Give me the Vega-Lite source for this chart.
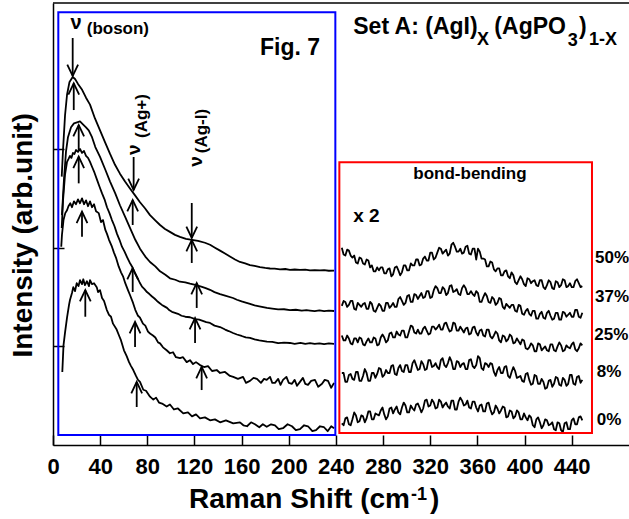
{
  "$schema": "https://vega.github.io/schema/vega-lite/v6.json",
  "width": 576,
  "height": 442,
  "autosize": {"type": "none"},
  "padding": {"left": 53, "top": 3, "right": 0, "bottom": 74},
  "background": "white",
  "config": {"view": {"stroke": null}, "font": "Liberation Sans"},
  "datasets": {
    "curves": [
      {"k":"50L","x":7.4,"y":272},{"k":"50L","x":8.5,"y":299},{"k":"50L","x":10.2,"y":334},{"k":"50L","x":11.9,"y":355},{"k":"50L","x":14,"y":368},{"k":"50L","x":16.7,"y":373},{"k":"50L","x":18.7,"y":371},{"k":"50L","x":21.2,"y":366},{"k":"50L","x":24.7,"y":360},{"k":"50L","x":28,"y":352},{"k":"50L","x":31.4,"y":345},{"k":"50L","x":35.6,"y":331},{"k":"50L","x":39.9,"y":319},{"k":"50L","x":44.1,"y":307},{"k":"50L","x":48.4,"y":295},{"k":"50L","x":52.6,"y":284},{"k":"50L","x":56.8,"y":275},{"k":"50L","x":61.1,"y":267},{"k":"50L","x":65.3,"y":260},{"k":"50L","x":69.6,"y":253},{"k":"50L","x":73.8,"y":246},{"k":"50L","x":78,"y":240},{"k":"50L","x":82.3,"y":233},{"k":"50L","x":86.5,"y":228},{"k":"50L","x":90.8,"y":223},{"k":"50L","x":95,"y":219},{"k":"50L","x":99.2,"y":216},{"k":"50L","x":103.5,"y":213},{"k":"50L","x":107.7,"y":211},{"k":"50L","x":112.8,"y":209},{"k":"50L","x":117.9,"y":208},{"k":"50L","x":123,"y":207},{"k":"50L","x":128.9,"y":205},{"k":"50L","x":133.2,"y":203},{"k":"50L","x":137.4,"y":200},{"k":"50L","x":141.7,"y":197},{"k":"50L","x":145.9,"y":194},{"k":"50L","x":150.1,"y":191},{"k":"50L","x":154.4,"y":188},{"k":"50L","x":158.6,"y":185.5},{"k":"50L","x":163,"y":184},{"k":"50L","x":167.1,"y":182.4},{"k":"50L","x":171,"y":181.5},{"k":"50L","x":175.6,"y":180.4},{"k":"50L","x":180,"y":179.5},{"k":"50L","x":184.1,"y":178.9},{"k":"50L","x":188,"y":178.8},{"k":"50L","x":192.6,"y":178.1},{"k":"50L","x":197,"y":178.4},{"k":"50L","x":201,"y":177.6},{"k":"50L","x":205,"y":177.9},{"k":"50L","x":209.5,"y":177.4},{"k":"50L","x":214,"y":177.7},{"k":"50L","x":218,"y":176.9},{"k":"50L","x":222,"y":177.3},{"k":"50L","x":226.5,"y":176.9},{"k":"50L","x":230,"y":177.2},{"k":"50L","x":234,"y":176.6},{"k":"50L","x":238.4,"y":176.7},

      {"k":"37L","x":7.6,"y":233},{"k":"37L","x":9.3,"y":269},{"k":"37L","x":11,"y":297},{"k":"37L","x":12.7,"y":312},{"k":"37L","x":15.3,"y":322},{"k":"37L","x":17.8,"y":326},{"k":"37L","x":20.4,"y":327},{"k":"37L","x":22.9,"y":328},{"k":"37L","x":25.4,"y":325},{"k":"37L","x":28,"y":322},{"k":"37L","x":30.3,"y":319},{"k":"37L","x":33.1,"y":312},{"k":"37L","x":35.9,"y":302},{"k":"37L","x":39.9,"y":292},{"k":"37L","x":44.4,"y":279},{"k":"37L","x":48.4,"y":267},{"k":"37L","x":52.8,"y":255},{"k":"37L","x":56.8,"y":243},{"k":"37L","x":61.3,"y":231},{"k":"37L","x":65.3,"y":220},{"k":"37L","x":69.8,"y":208},{"k":"37L","x":73.8,"y":199},{"k":"37L","x":78.3,"y":191},{"k":"37L","x":82.3,"y":185.5},{"k":"37L","x":86.8,"y":181},{"k":"37L","x":90.8,"y":176},{"k":"37L","x":95.3,"y":172.5},{"k":"37L","x":99.2,"y":169},{"k":"37L","x":103.7,"y":167.5},{"k":"37L","x":107.7,"y":165.5},{"k":"37L","x":112.2,"y":164.8},{"k":"37L","x":116.2,"y":163.5},{"k":"37L","x":120.7,"y":162.4},{"k":"37L","x":126.4,"y":160.2},{"k":"37L","x":129.5,"y":159},{"k":"37L","x":133.2,"y":157.3},{"k":"37L","x":137,"y":155},{"k":"37L","x":141.7,"y":153},{"k":"37L","x":146,"y":151.5},{"k":"37L","x":152.7,"y":149},{"k":"37L","x":156,"y":147.2},{"k":"37L","x":160,"y":145.5},{"k":"37L","x":163.5,"y":144.3},{"k":"37L","x":167.1,"y":143},{"k":"37L","x":171,"y":141.5},{"k":"37L","x":175,"y":140.6},{"k":"37L","x":181.5,"y":138.9},{"k":"37L","x":186,"y":138.2},{"k":"37L","x":191,"y":137.4},{"k":"37L","x":196,"y":137.6},{"k":"37L","x":201,"y":136.8},{"k":"37L","x":206,"y":137.1},{"k":"37L","x":211,"y":136.3},{"k":"37L","x":215,"y":136.7},{"k":"37L","x":218,"y":136.3},{"k":"37L","x":222,"y":135.6},{"k":"37L","x":226,"y":136.4},{"k":"37L","x":230,"y":135.7},{"k":"37L","x":234,"y":136.2},{"k":"37L","x":238.4,"y":135.8},

      {"k":"25L","x":7.4,"y":220},{"k":"25L","x":8.5,"y":248},{"k":"25L","x":10.2,"y":274},{"k":"25L","x":11.9,"y":287},{"k":"25L","x":13.2,"y":290},{"k":"25L","x":14.4,"y":293},{"k":"25L","x":15.6,"y":291},{"k":"25L","x":16.9,"y":296},{"k":"25L","x":18.2,"y":295},{"k":"25L","x":19.5,"y":299},{"k":"25L","x":21.2,"y":297},{"k":"25L","x":22.9,"y":300},{"k":"25L","x":24.6,"y":296},{"k":"25L","x":26.3,"y":298},{"k":"25L","x":28,"y":293},{"k":"25L","x":29.7,"y":291},{"k":"25L","x":31.4,"y":287},{"k":"25L","x":33.1,"y":282},{"k":"25L","x":35.2,"y":276},{"k":"25L","x":37.3,"y":269},{"k":"25L","x":39.4,"y":262},{"k":"25L","x":41.6,"y":255},{"k":"25L","x":43.7,"y":249},{"k":"25L","x":45.8,"y":241},{"k":"25L","x":47.9,"y":235},{"k":"25L","x":50,"y":228},{"k":"25L","x":52.1,"y":222},{"k":"25L","x":54.3,"y":214},{"k":"25L","x":56.4,"y":208},{"k":"25L","x":58.5,"y":201},{"k":"25L","x":60.7,"y":196},{"k":"25L","x":62.8,"y":190.5},{"k":"25L","x":65,"y":185},{"k":"25L","x":67,"y":181},{"k":"25L","x":69.2,"y":175},{"k":"25L","x":71.3,"y":170},{"k":"25L","x":73.4,"y":165},{"k":"25L","x":75.5,"y":160.5},{"k":"25L","x":77.6,"y":158},{"k":"25L","x":79.7,"y":155},{"k":"25L","x":81.8,"y":153},{"k":"25L","x":84,"y":150.5},{"k":"25L","x":86.1,"y":148.5},{"k":"25L","x":88.2,"y":146},{"k":"25L","x":90.3,"y":144},{"k":"25L","x":92.4,"y":142},{"k":"25L","x":94.5,"y":140.5},{"k":"25L","x":96.7,"y":139},{"k":"25L","x":98.8,"y":136.5},{"k":"25L","x":100.9,"y":135},{"k":"25L","x":103.5,"y":134},{"k":"25L","x":106,"y":133},{"k":"25L","x":109,"y":131},{"k":"25L","x":112.2,"y":130},{"k":"25L","x":116.2,"y":129.5},{"k":"25L","x":120.7,"y":127.5},{"k":"25L","x":124,"y":127},{"k":"25L","x":126.4,"y":126},{"k":"25L","x":130,"y":124.5},{"k":"25L","x":133.2,"y":123.7},{"k":"25L","x":137,"y":121},{"k":"25L","x":141.7,"y":119.6},{"k":"25L","x":146,"y":117},{"k":"25L","x":149,"y":115.5},{"k":"25L","x":152.7,"y":113.5},{"k":"25L","x":156,"y":112},{"k":"25L","x":160,"y":110.5},{"k":"25L","x":163.5,"y":109},{"k":"25L","x":167.1,"y":108.5},{"k":"25L","x":171,"y":107},{"k":"25L","x":175,"y":106},{"k":"25L","x":181.5,"y":104.7},{"k":"25L","x":186,"y":104.5},{"k":"25L","x":191,"y":103.2},{"k":"25L","x":196,"y":103.8},{"k":"25L","x":201,"y":103.4},{"k":"25L","x":205,"y":102.6},{"k":"25L","x":210,"y":103.5},{"k":"25L","x":214,"y":102.5},{"k":"25L","x":218,"y":103.2},{"k":"25L","x":222,"y":102.4},{"k":"25L","x":226,"y":103.1},{"k":"25L","x":230,"y":102.2},{"k":"25L","x":234,"y":102.9},{"k":"25L","x":238.4,"y":102.4},

      {"k":"8L","x":7,"y":201},{"k":"8L","x":7.6,"y":213},{"k":"8L","x":8.9,"y":228},{"k":"8L","x":10.4,"y":235},{"k":"8L","x":11.9,"y":238},{"k":"8L","x":13.1,"y":242},{"k":"8L","x":14.7,"y":245},{"k":"8L","x":16.1,"y":241},{"k":"8L","x":17.8,"y":247},{"k":"8L","x":19.5,"y":244},{"k":"8L","x":21.2,"y":249},{"k":"8L","x":22.9,"y":245},{"k":"8L","x":24.6,"y":250},{"k":"8L","x":26.3,"y":244},{"k":"8L","x":28,"y":248},{"k":"8L","x":29.7,"y":242},{"k":"8L","x":31.4,"y":247},{"k":"8L","x":33.1,"y":241},{"k":"8L","x":34.8,"y":244},{"k":"8L","x":36.5,"y":237},{"k":"8L","x":38.8,"y":235},{"k":"8L","x":40.7,"y":226},{"k":"8L","x":42.4,"y":228},{"k":"8L","x":44.4,"y":218},{"k":"8L","x":45.8,"y":214},{"k":"8L","x":47.5,"y":208},{"k":"8L","x":50,"y":201},{"k":"8L","x":51.7,"y":195},{"k":"8L","x":53.4,"y":190},{"k":"8L","x":55.7,"y":181},{"k":"8L","x":57.7,"y":175},{"k":"8L","x":59.4,"y":171},{"k":"8L","x":61.3,"y":164},{"k":"8L","x":63.6,"y":157},{"k":"8L","x":65.3,"y":152},{"k":"8L","x":67.9,"y":144},{"k":"8L","x":69.8,"y":137},{"k":"8L","x":72.1,"y":131},{"k":"8L","x":73.8,"y":129},{"k":"8L","x":76.3,"y":123},{"k":"8L","x":78.3,"y":121},{"k":"8L","x":80.6,"y":115},{"k":"8L","x":82.3,"y":113},{"k":"8L","x":84.8,"y":111},{"k":"8L","x":86.8,"y":109},{"k":"8L","x":89.1,"y":104},{"k":"8L","x":90.8,"y":103},{"k":"8L","x":93.3,"y":99},{"k":"8L","x":96.4,"y":96},{"k":"8L","x":99.2,"y":93},{"k":"8L","x":101.8,"y":94},{"k":"8L","x":104.3,"y":89},{"k":"8L","x":107.7,"y":88},{"k":"8L","x":110.3,"y":89},{"k":"8L","x":113.4,"y":84},{"k":"8L","x":116.2,"y":86},{"k":"8L","x":118.8,"y":82},{"k":"8L","x":121.3,"y":84},{"k":"8L","x":124.7,"y":81},{"k":"8L","x":128.1,"y":79},{"k":"8L","x":131.5,"y":80},{"k":"8L","x":134.9,"y":75},{"k":"8L","x":138.9,"y":76},{"k":"8L","x":141.7,"y":73},{"k":"8L","x":145.9,"y":74},{"k":"8L","x":150.1,"y":70},{"k":"8L","x":152.9,"y":69},{"k":"8L","x":156.9,"y":67},{"k":"8L","x":161.2,"y":69},{"k":"8L","x":163.7,"y":63},{"k":"8L","x":167.1,"y":65},{"k":"8L","x":170.1,"y":68},{"k":"8L","x":173,"y":67},{"k":"8L","x":176.4,"y":63},{"k":"8L","x":179,"y":67},{"k":"8L","x":181.3,"y":66},{"k":"8L","x":184.1,"y":69},{"k":"8L","x":186,"y":63},{"k":"8L","x":188.3,"y":63},{"k":"8L","x":191,"y":67},{"k":"8L","x":193,"y":61},{"k":"8L","x":195.1,"y":66},{"k":"8L","x":198,"y":69},{"k":"8L","x":200,"y":63},{"k":"8L","x":202.7,"y":62},{"k":"8L","x":205,"y":66},{"k":"8L","x":207,"y":60},{"k":"8L","x":209.5,"y":64},{"k":"8L","x":212,"y":68},{"k":"8L","x":214,"y":62},{"k":"8L","x":216.3,"y":61},{"k":"8L","x":219,"y":65},{"k":"8L","x":222.2,"y":66},{"k":"8L","x":225,"y":59},{"k":"8L","x":228.2,"y":62},{"k":"8L","x":230.5,"y":66},{"k":"8L","x":233.3,"y":65},{"k":"8L","x":236,"y":58},{"k":"8L","x":238.4,"y":63},

      {"k":"0L","x":7.9,"y":74},{"k":"0L","x":8.9,"y":101},{"k":"0L","x":10.2,"y":114},{"k":"0L","x":11.9,"y":129},{"k":"0L","x":13.6,"y":142},{"k":"0L","x":14.4,"y":147},{"k":"0L","x":16.1,"y":154},{"k":"0L","x":17.2,"y":160},{"k":"0L","x":18.7,"y":156},{"k":"0L","x":20.1,"y":164},{"k":"0L","x":21.6,"y":161},{"k":"0L","x":22.9,"y":167},{"k":"0L","x":24.6,"y":163},{"k":"0L","x":25.7,"y":168},{"k":"0L","x":27.1,"y":162},{"k":"0L","x":28.8,"y":166},{"k":"0L","x":30.5,"y":161},{"k":"0L","x":31.4,"y":167},{"k":"0L","x":33.1,"y":163},{"k":"0L","x":34.8,"y":164},{"k":"0L","x":37.1,"y":160},{"k":"0L","x":38.2,"y":155},{"k":"0L","x":39.9,"y":157},{"k":"0L","x":41.6,"y":149},{"k":"0L","x":43.3,"y":146},{"k":"0L","x":45.6,"y":137},{"k":"0L","x":47.5,"y":132},{"k":"0L","x":49.2,"y":130},{"k":"0L","x":50.9,"y":123},{"k":"0L","x":54,"y":117},{"k":"0L","x":56,"y":111},{"k":"0L","x":57.7,"y":106},{"k":"0L","x":60.2,"y":96},{"k":"0L","x":62.5,"y":90},{"k":"0L","x":64.5,"y":84},{"k":"0L","x":66.2,"y":80},{"k":"0L","x":68.1,"y":76},{"k":"0L","x":70.4,"y":70},{"k":"0L","x":72.1,"y":66},{"k":"0L","x":73.8,"y":64},{"k":"0L","x":76.6,"y":56},{"k":"0L","x":78.9,"y":55},{"k":"0L","x":80.6,"y":52},{"k":"0L","x":82.3,"y":49},{"k":"0L","x":85.1,"y":46},{"k":"0L","x":87.4,"y":48},{"k":"0L","x":89.9,"y":43},{"k":"0L","x":92.5,"y":42},{"k":"0L","x":96.4,"y":39},{"k":"0L","x":99.2,"y":41},{"k":"0L","x":102.6,"y":36},{"k":"0L","x":106,"y":37},{"k":"0L","x":110.5,"y":32},{"k":"0L","x":114.5,"y":33},{"k":"0L","x":117.9,"y":29},{"k":"0L","x":121.3,"y":31},{"k":"0L","x":124.7,"y":27},{"k":"0L","x":128.9,"y":28},{"k":"0L","x":133.2,"y":25},{"k":"0L","x":137.4,"y":26},{"k":"0L","x":141.7,"y":23},{"k":"0L","x":146.7,"y":25},{"k":"0L","x":152.9,"y":22},{"k":"0L","x":158.6,"y":23},{"k":"0L","x":161.5,"y":20},{"k":"0L","x":164.6,"y":19},{"k":"0L","x":168,"y":23},{"k":"0L","x":171.3,"y":21},{"k":"0L","x":175,"y":18},{"k":"0L","x":178,"y":21},{"k":"0L","x":181.3,"y":18.5},{"k":"0L","x":185,"y":21},{"k":"0L","x":188.3,"y":20},{"k":"0L","x":191.5,"y":16},{"k":"0L","x":195.1,"y":17},{"k":"0L","x":199,"y":21},{"k":"0L","x":202.7,"y":19},{"k":"0L","x":206,"y":15},{"k":"0L","x":209.5,"y":16},{"k":"0L","x":213,"y":20},{"k":"0L","x":216.3,"y":19},{"k":"0L","x":220,"y":14},{"k":"0L","x":223.1,"y":15},{"k":"0L","x":226.5,"y":19},{"k":"0L","x":229.9,"y":18},{"k":"0L","x":233,"y":14},{"k":"0L","x":236,"y":19},{"k":"0L","x":238.4,"y":17},

      {"k":"50R","x":245,"y":200},{"k":"50R","x":248,"y":192},{"k":"50R","x":251,"y":197},{"k":"50R","x":254,"y":190},{"k":"50R","x":257,"y":185},{"k":"50R","x":260,"y":190},{"k":"50R","x":263,"y":184},{"k":"50R","x":266,"y":188},{"k":"50R","x":269,"y":180},{"k":"50R","x":272,"y":176},{"k":"50R","x":275,"y":180},{"k":"50R","x":278,"y":180},{"k":"50R","x":281,"y":174},{"k":"50R","x":284,"y":178},{"k":"50R","x":287,"y":171},{"k":"50R","x":290,"y":180},{"k":"50R","x":293,"y":177},{"k":"50R","x":296,"y":175},{"k":"50R","x":299,"y":182},{"k":"50R","x":302,"y":177},{"k":"50R","x":305,"y":182},{"k":"50R","x":308,"y":188},{"k":"50R","x":311,"y":182},{"k":"50R","x":314,"y":189},{"k":"50R","x":317,"y":187},{"k":"50R","x":320,"y":195},{"k":"50R","x":323,"y":188},{"k":"50R","x":326,"y":195},{"k":"50R","x":329,"y":199},{"k":"50R","x":332,"y":196},{"k":"50R","x":335,"y":192},{"k":"50R","x":338,"y":203},{"k":"50R","x":341,"y":201},{"k":"50R","x":344,"y":196},{"k":"50R","x":347,"y":194},{"k":"50R","x":350,"y":201},{"k":"50R","x":353,"y":194},{"k":"50R","x":356,"y":199},{"k":"50R","x":359,"y":188},{"k":"50R","x":362,"y":196},{"k":"50R","x":365,"y":189},{"k":"50R","x":368,"y":181},{"k":"50R","x":371,"y":186},{"k":"50R","x":374,"y":178},{"k":"50R","x":377,"y":179},{"k":"50R","x":380,"y":172},{"k":"50R","x":383,"y":176},{"k":"50R","x":386,"y":171},{"k":"50R","x":389,"y":175},{"k":"50R","x":392,"y":165},{"k":"50R","x":395,"y":167},{"k":"50R","x":398,"y":168},{"k":"50R","x":401,"y":161},{"k":"50R","x":404,"y":168},{"k":"50R","x":407,"y":166},{"k":"50R","x":410,"y":162},{"k":"50R","x":413,"y":167},{"k":"50R","x":416,"y":160},{"k":"50R","x":419,"y":162},{"k":"50R","x":422,"y":165},{"k":"50R","x":425,"y":158},{"k":"50R","x":428,"y":165},{"k":"50R","x":431,"y":162},{"k":"50R","x":434,"y":167},{"k":"50R","x":437,"y":161},{"k":"50R","x":440,"y":160},{"k":"50R","x":443,"y":166},{"k":"50R","x":446,"y":164},{"k":"50R","x":449,"y":161},
      {"k":"50R","x":246.5,"y":193},{"k":"50R","x":249.5,"y":198},{"k":"50R","x":252.5,"y":192},{"k":"50R","x":255.5,"y":192},{"k":"50R","x":258.5,"y":184},{"k":"50R","x":261.5,"y":189},{"k":"50R","x":264.5,"y":183},{"k":"50R","x":267.5,"y":187},{"k":"50R","x":270.5,"y":182},{"k":"50R","x":273.5,"y":176},{"k":"50R","x":276.5,"y":177},{"k":"50R","x":279.5,"y":180},{"k":"50R","x":282.5,"y":174},{"k":"50R","x":285.5,"y":179},{"k":"50R","x":288.5,"y":173},{"k":"50R","x":291.5,"y":181},{"k":"50R","x":294.5,"y":172},{"k":"50R","x":297.5,"y":182},{"k":"50R","x":300.5,"y":177},{"k":"50R","x":303.5,"y":184},{"k":"50R","x":306.5,"y":182},{"k":"50R","x":309.5,"y":188},{"k":"50R","x":312.5,"y":183},{"k":"50R","x":315.5,"y":191},{"k":"50R","x":318.5,"y":187},{"k":"50R","x":321.5,"y":195},{"k":"50R","x":324.5,"y":190},{"k":"50R","x":327.5,"y":200},{"k":"50R","x":330.5,"y":194},{"k":"50R","x":333.5,"y":198},{"k":"50R","x":336.5,"y":194},{"k":"50R","x":339.5,"y":205},{"k":"50R","x":342.5,"y":196},{"k":"50R","x":345.5,"y":199},{"k":"50R","x":348.5,"y":195},{"k":"50R","x":351.5,"y":202},{"k":"50R","x":354.5,"y":193},{"k":"50R","x":357.5,"y":199},{"k":"50R","x":360.5,"y":199},{"k":"50R","x":363.5,"y":189},{"k":"50R","x":366.5,"y":188},{"k":"50R","x":369.5,"y":181},{"k":"50R","x":372.5,"y":185},{"k":"50R","x":375.5,"y":176},{"k":"50R","x":378.5,"y":179},{"k":"50R","x":381.5,"y":172},{"k":"50R","x":384.5,"y":177},{"k":"50R","x":387.5,"y":169},{"k":"50R","x":390.5,"y":172},{"k":"50R","x":393.5,"y":163},{"k":"50R","x":396.5,"y":171},{"k":"50R","x":399.5,"y":163},{"k":"50R","x":402.5,"y":169},{"k":"50R","x":405.5,"y":164},{"k":"50R","x":408.5,"y":167},{"k":"50R","x":411.5,"y":161},{"k":"50R","x":414.5,"y":167},{"k":"50R","x":417.5,"y":158},{"k":"50R","x":420.5,"y":167},{"k":"50R","x":423.5,"y":159},{"k":"50R","x":426.5,"y":166},{"k":"50R","x":429.5,"y":160},{"k":"50R","x":432.5,"y":168},{"k":"50R","x":435.5,"y":160},{"k":"50R","x":438.5,"y":164},{"k":"50R","x":441.5,"y":160},{"k":"50R","x":444.5,"y":168},{"k":"50R","x":447.5,"y":160},

      {"k":"37R","x":245,"y":141},{"k":"37R","x":248,"y":145},{"k":"37R","x":251,"y":142},{"k":"37R","x":254,"y":146},{"k":"37R","x":257,"y":137},{"k":"37R","x":260,"y":142},{"k":"37R","x":263,"y":143},{"k":"37R","x":266,"y":138},{"k":"37R","x":269,"y":145},{"k":"37R","x":272,"y":136},{"k":"37R","x":275,"y":139},{"k":"37R","x":278,"y":141},{"k":"37R","x":281,"y":136},{"k":"37R","x":284,"y":144},{"k":"37R","x":287,"y":141},{"k":"37R","x":290,"y":140},{"k":"37R","x":293,"y":148},{"k":"37R","x":296,"y":146},{"k":"37R","x":299,"y":144},{"k":"37R","x":302,"y":152},{"k":"37R","x":305,"y":145},{"k":"37R","x":308,"y":152},{"k":"37R","x":311,"y":151},{"k":"37R","x":314,"y":149},{"k":"37R","x":317,"y":156},{"k":"37R","x":320,"y":149},{"k":"37R","x":323,"y":157},{"k":"37R","x":326,"y":159},{"k":"37R","x":329,"y":154},{"k":"37R","x":332,"y":158},{"k":"37R","x":335,"y":154},{"k":"37R","x":338,"y":162},{"k":"37R","x":341,"y":156},{"k":"37R","x":344,"y":153},{"k":"37R","x":347,"y":159},{"k":"37R","x":350,"y":159},{"k":"37R","x":353,"y":153},{"k":"37R","x":356,"y":153},{"k":"37R","x":359,"y":156},{"k":"37R","x":362,"y":145},{"k":"37R","x":365,"y":150},{"k":"37R","x":368,"y":151},{"k":"37R","x":371,"y":144},{"k":"37R","x":374,"y":148},{"k":"37R","x":377,"y":144},{"k":"37R","x":380,"y":148},{"k":"37R","x":383,"y":138},{"k":"37R","x":386,"y":141},{"k":"37R","x":389,"y":142},{"k":"37R","x":392,"y":136},{"k":"37R","x":395,"y":142},{"k":"37R","x":398,"y":133},{"k":"37R","x":401,"y":136},{"k":"37R","x":404,"y":133},{"k":"37R","x":407,"y":136},{"k":"37R","x":410,"y":128},{"k":"37R","x":413,"y":133},{"k":"37R","x":416,"y":129},{"k":"37R","x":419,"y":134},{"k":"37R","x":422,"y":131},{"k":"37R","x":425,"y":128},{"k":"37R","x":428,"y":134},{"k":"37R","x":431,"y":127},{"k":"37R","x":434,"y":134},{"k":"37R","x":437,"y":132},{"k":"37R","x":440,"y":130},{"k":"37R","x":443,"y":137},{"k":"37R","x":446,"y":130},{"k":"37R","x":449,"y":134},
      {"k":"37R","x":246.5,"y":146},{"k":"37R","x":249.5,"y":140},{"k":"37R","x":252.5,"y":146},{"k":"37R","x":255.5,"y":138},{"k":"37R","x":258.5,"y":144},{"k":"37R","x":261.5,"y":140},{"k":"37R","x":264.5,"y":144},{"k":"37R","x":267.5,"y":138},{"k":"37R","x":270.5,"y":143},{"k":"37R","x":273.5,"y":135},{"k":"37R","x":276.5,"y":143},{"k":"37R","x":279.5,"y":136},{"k":"37R","x":282.5,"y":144},{"k":"37R","x":285.5,"y":139},{"k":"37R","x":288.5,"y":144},{"k":"37R","x":291.5,"y":140},{"k":"37R","x":294.5,"y":150},{"k":"37R","x":297.5,"y":142},{"k":"37R","x":300.5,"y":151},{"k":"37R","x":303.5,"y":145},{"k":"37R","x":306.5,"y":153},{"k":"37R","x":309.5,"y":148},{"k":"37R","x":312.5,"y":154},{"k":"37R","x":315.5,"y":150},{"k":"37R","x":318.5,"y":156},{"k":"37R","x":321.5,"y":150},{"k":"37R","x":324.5,"y":161},{"k":"37R","x":327.5,"y":154},{"k":"37R","x":330.5,"y":160},{"k":"37R","x":333.5,"y":152},{"k":"37R","x":336.5,"y":161},{"k":"37R","x":339.5,"y":155},{"k":"37R","x":342.5,"y":158},{"k":"37R","x":345.5,"y":152},{"k":"37R","x":348.5,"y":162},{"k":"37R","x":351.5,"y":153},{"k":"37R","x":354.5,"y":156},{"k":"37R","x":357.5,"y":151},{"k":"37R","x":360.5,"y":154},{"k":"37R","x":363.5,"y":145},{"k":"37R","x":366.5,"y":154},{"k":"37R","x":369.5,"y":145},{"k":"37R","x":372.5,"y":150},{"k":"37R","x":375.5,"y":142},{"k":"37R","x":378.5,"y":149},{"k":"37R","x":381.5,"y":140},{"k":"37R","x":384.5,"y":143},{"k":"37R","x":387.5,"y":139},{"k":"37R","x":390.5,"y":142},{"k":"37R","x":393.5,"y":135},{"k":"37R","x":396.5,"y":141},{"k":"37R","x":399.5,"y":132},{"k":"37R","x":402.5,"y":138},{"k":"37R","x":405.5,"y":131},{"k":"37R","x":408.5,"y":136},{"k":"37R","x":411.5,"y":128},{"k":"37R","x":414.5,"y":135},{"k":"37R","x":417.5,"y":128},{"k":"37R","x":420.5,"y":136},{"k":"37R","x":423.5,"y":127},{"k":"37R","x":426.5,"y":134},{"k":"37R","x":429.5,"y":127},{"k":"37R","x":432.5,"y":135},{"k":"37R","x":435.5,"y":130},{"k":"37R","x":438.5,"y":134},{"k":"37R","x":441.5,"y":130},{"k":"37R","x":444.5,"y":137},{"k":"37R","x":447.5,"y":129},

      {"k":"25R","x":245,"y":111},{"k":"25R","x":248,"y":106},{"k":"25R","x":251,"y":108},{"k":"25R","x":254,"y":102},{"k":"25R","x":257,"y":108},{"k":"25R","x":260,"y":109},{"k":"25R","x":263,"y":102},{"k":"25R","x":266,"y":105},{"k":"25R","x":269,"y":104},{"k":"25R","x":272,"y":109},{"k":"25R","x":275,"y":101},{"k":"25R","x":278,"y":109},{"k":"25R","x":281,"y":109},{"k":"25R","x":284,"y":106},{"k":"25R","x":287,"y":114},{"k":"25R","x":290,"y":109},{"k":"25R","x":293,"y":112},{"k":"25R","x":296,"y":116},{"k":"25R","x":299,"y":109},{"k":"25R","x":302,"y":115},{"k":"25R","x":305,"y":120},{"k":"25R","x":308,"y":113},{"k":"25R","x":311,"y":113},{"k":"25R","x":314,"y":118},{"k":"25R","x":317,"y":116},{"k":"25R","x":320,"y":113},{"k":"25R","x":323,"y":120},{"k":"25R","x":326,"y":119},{"k":"25R","x":329,"y":117},{"k":"25R","x":332,"y":123},{"k":"25R","x":335,"y":119},{"k":"25R","x":338,"y":116},{"k":"25R","x":341,"y":123},{"k":"25R","x":344,"y":116},{"k":"25R","x":347,"y":117},{"k":"25R","x":350,"y":118},{"k":"25R","x":353,"y":112},{"k":"25R","x":356,"y":119},{"k":"25R","x":359,"y":114},{"k":"25R","x":362,"y":116},{"k":"25R","x":365,"y":111},{"k":"25R","x":368,"y":117},{"k":"25R","x":371,"y":110},{"k":"25R","x":374,"y":111},{"k":"25R","x":377,"y":113},{"k":"25R","x":380,"y":104},{"k":"25R","x":383,"y":110},{"k":"25R","x":386,"y":107},{"k":"25R","x":389,"y":110},{"k":"25R","x":392,"y":104},{"k":"25R","x":395,"y":105},{"k":"25R","x":398,"y":107},{"k":"25R","x":401,"y":98},{"k":"25R","x":404,"y":99},{"k":"25R","x":407,"y":101},{"k":"25R","x":410,"y":95},{"k":"25R","x":413,"y":102},{"k":"25R","x":416,"y":98},{"k":"25R","x":419,"y":96},{"k":"25R","x":422,"y":102},{"k":"25R","x":425,"y":96},{"k":"25R","x":428,"y":100},{"k":"25R","x":431,"y":101},{"k":"25R","x":434,"y":96},{"k":"25R","x":437,"y":99},{"k":"25R","x":440,"y":102},{"k":"25R","x":443,"y":97},{"k":"25R","x":446,"y":98},{"k":"25R","x":449,"y":101},
      {"k":"25R","x":246.5,"y":106},{"k":"25R","x":249.5,"y":111},{"k":"25R","x":252.5,"y":103},{"k":"25R","x":255.5,"y":108},{"k":"25R","x":258.5,"y":104},{"k":"25R","x":261.5,"y":108},{"k":"25R","x":264.5,"y":101},{"k":"25R","x":267.5,"y":108},{"k":"25R","x":270.5,"y":104},{"k":"25R","x":273.5,"y":108},{"k":"25R","x":276.5,"y":102},{"k":"25R","x":279.5,"y":112},{"k":"25R","x":282.5,"y":104},{"k":"25R","x":285.5,"y":113},{"k":"25R","x":288.5,"y":109},{"k":"25R","x":291.5,"y":115},{"k":"25R","x":294.5,"y":111},{"k":"25R","x":297.5,"y":116},{"k":"25R","x":300.5,"y":109},{"k":"25R","x":303.5,"y":121},{"k":"25R","x":306.5,"y":114},{"k":"25R","x":309.5,"y":117},{"k":"25R","x":312.5,"y":113},{"k":"25R","x":315.5,"y":120},{"k":"25R","x":318.5,"y":112},{"k":"25R","x":321.5,"y":120},{"k":"25R","x":324.5,"y":117},{"k":"25R","x":327.5,"y":122},{"k":"25R","x":330.5,"y":117},{"k":"25R","x":333.5,"y":124},{"k":"25R","x":336.5,"y":115},{"k":"25R","x":339.5,"y":124},{"k":"25R","x":342.5,"y":116},{"k":"25R","x":345.5,"y":120},{"k":"25R","x":348.5,"y":114},{"k":"25R","x":351.5,"y":119},{"k":"25R","x":354.5,"y":113},{"k":"25R","x":357.5,"y":120},{"k":"25R","x":360.5,"y":111},{"k":"25R","x":363.5,"y":117},{"k":"25R","x":366.5,"y":110},{"k":"25R","x":369.5,"y":117},{"k":"25R","x":372.5,"y":108},{"k":"25R","x":375.5,"y":115},{"k":"25R","x":378.5,"y":106},{"k":"25R","x":381.5,"y":111},{"k":"25R","x":384.5,"y":105},{"k":"25R","x":387.5,"y":112},{"k":"25R","x":390.5,"y":103},{"k":"25R","x":393.5,"y":108},{"k":"25R","x":396.5,"y":102},{"k":"25R","x":399.5,"y":106},{"k":"25R","x":402.5,"y":97},{"k":"25R","x":405.5,"y":103},{"k":"25R","x":408.5,"y":95},{"k":"25R","x":411.5,"y":103},{"k":"25R","x":414.5,"y":96},{"k":"25R","x":417.5,"y":100},{"k":"25R","x":420.5,"y":95},{"k":"25R","x":423.5,"y":102},{"k":"25R","x":426.5,"y":95},{"k":"25R","x":429.5,"y":104},{"k":"25R","x":432.5,"y":95},{"k":"25R","x":435.5,"y":101},{"k":"25R","x":438.5,"y":98},{"k":"25R","x":441.5,"y":104},{"k":"25R","x":444.5,"y":95},{"k":"25R","x":447.5,"y":103},

      {"k":"8R","x":245,"y":73},{"k":"8R","x":248,"y":64},{"k":"8R","x":251,"y":71},{"k":"8R","x":254,"y":67},{"k":"8R","x":257,"y":74},{"k":"8R","x":260,"y":65},{"k":"8R","x":263,"y":70},{"k":"8R","x":266,"y":73},{"k":"8R","x":269,"y":65},{"k":"8R","x":272,"y":73},{"k":"8R","x":275,"y":72},{"k":"8R","x":278,"y":77},{"k":"8R","x":281,"y":71},{"k":"8R","x":284,"y":73},{"k":"8R","x":287,"y":80},{"k":"8R","x":290,"y":72},{"k":"8R","x":293,"y":78},{"k":"8R","x":296,"y":75},{"k":"8R","x":299,"y":81},{"k":"8R","x":302,"y":74},{"k":"8R","x":305,"y":83},{"k":"8R","x":308,"y":81},{"k":"8R","x":311,"y":77},{"k":"8R","x":314,"y":82},{"k":"8R","x":317,"y":77},{"k":"8R","x":320,"y":86},{"k":"8R","x":323,"y":80},{"k":"8R","x":326,"y":79},{"k":"8R","x":329,"y":86},{"k":"8R","x":332,"y":81},{"k":"8R","x":335,"y":83},{"k":"8R","x":338,"y":85},{"k":"8R","x":341,"y":77},{"k":"8R","x":344,"y":84},{"k":"8R","x":347,"y":82},{"k":"8R","x":350,"y":77},{"k":"8R","x":353,"y":86},{"k":"8R","x":356,"y":80},{"k":"8R","x":359,"y":81},{"k":"8R","x":362,"y":88},{"k":"8R","x":365,"y":76},{"k":"8R","x":368,"y":82},{"k":"8R","x":371,"y":83},{"k":"8R","x":374,"y":74},{"k":"8R","x":377,"y":76},{"k":"8R","x":380,"y":73},{"k":"8R","x":383,"y":79},{"k":"8R","x":386,"y":70},{"k":"8R","x":389,"y":74},{"k":"8R","x":392,"y":75},{"k":"8R","x":395,"y":69},{"k":"8R","x":398,"y":65},{"k":"8R","x":401,"y":72},{"k":"8R","x":404,"y":66},{"k":"8R","x":407,"y":62},{"k":"8R","x":410,"y":70},{"k":"8R","x":413,"y":62},{"k":"8R","x":416,"y":64},{"k":"8R","x":419,"y":58},{"k":"8R","x":422,"y":66},{"k":"8R","x":425,"y":62},{"k":"8R","x":428,"y":68},{"k":"8R","x":431,"y":60},{"k":"8R","x":434,"y":66},{"k":"8R","x":437,"y":62},{"k":"8R","x":440,"y":71},{"k":"8R","x":443,"y":61},{"k":"8R","x":446,"y":70},{"k":"8R","x":449,"y":66},
      {"k":"8R","x":246.5,"y":73},{"k":"8R","x":249.5,"y":64},{"k":"8R","x":252.5,"y":72},{"k":"8R","x":255.5,"y":66},{"k":"8R","x":258.5,"y":74},{"k":"8R","x":261.5,"y":65},{"k":"8R","x":264.5,"y":77},{"k":"8R","x":267.5,"y":65},{"k":"8R","x":270.5,"y":73},{"k":"8R","x":273.5,"y":68},{"k":"8R","x":276.5,"y":78},{"k":"8R","x":279.5,"y":69},{"k":"8R","x":282.5,"y":76},{"k":"8R","x":285.5,"y":73},{"k":"8R","x":288.5,"y":81},{"k":"8R","x":291.5,"y":71},{"k":"8R","x":294.5,"y":81},{"k":"8R","x":297.5,"y":74},{"k":"8R","x":300.5,"y":81},{"k":"8R","x":303.5,"y":74},{"k":"8R","x":306.5,"y":86},{"k":"8R","x":309.5,"y":76},{"k":"8R","x":312.5,"y":85},{"k":"8R","x":315.5,"y":76},{"k":"8R","x":318.5,"y":86},{"k":"8R","x":321.5,"y":79},{"k":"8R","x":324.5,"y":83},{"k":"8R","x":327.5,"y":77},{"k":"8R","x":330.5,"y":88},{"k":"8R","x":333.5,"y":79},{"k":"8R","x":336.5,"y":89},{"k":"8R","x":339.5,"y":77},{"k":"8R","x":342.5,"y":85},{"k":"8R","x":345.5,"y":79},{"k":"8R","x":348.5,"y":83},{"k":"8R","x":351.5,"y":77},{"k":"8R","x":354.5,"y":87},{"k":"8R","x":357.5,"y":78},{"k":"8R","x":360.5,"y":90},{"k":"8R","x":363.5,"y":78},{"k":"8R","x":366.5,"y":83},{"k":"8R","x":369.5,"y":79},{"k":"8R","x":372.5,"y":82},{"k":"8R","x":375.5,"y":70},{"k":"8R","x":378.5,"y":79},{"k":"8R","x":381.5,"y":73},{"k":"8R","x":384.5,"y":80},{"k":"8R","x":387.5,"y":68},{"k":"8R","x":390.5,"y":79},{"k":"8R","x":393.5,"y":68},{"k":"8R","x":396.5,"y":70},{"k":"8R","x":399.5,"y":64},{"k":"8R","x":402.5,"y":73},{"k":"8R","x":405.5,"y":61},{"k":"8R","x":408.5,"y":71},{"k":"8R","x":411.5,"y":62},{"k":"8R","x":414.5,"y":67},{"k":"8R","x":417.5,"y":57},{"k":"8R","x":420.5,"y":65},{"k":"8R","x":423.5,"y":59},{"k":"8R","x":426.5,"y":69},{"k":"8R","x":429.5,"y":61},{"k":"8R","x":432.5,"y":68},{"k":"8R","x":435.5,"y":60},{"k":"8R","x":438.5,"y":71},{"k":"8R","x":441.5,"y":62},{"k":"8R","x":444.5,"y":69},{"k":"8R","x":447.5,"y":63},

      {"k":"0R","x":245,"y":22},{"k":"0R","x":248,"y":27},{"k":"0R","x":251,"y":21},{"k":"0R","x":254,"y":26},{"k":"0R","x":257,"y":30},{"k":"0R","x":260,"y":24},{"k":"0R","x":263,"y":29},{"k":"0R","x":266,"y":27},{"k":"0R","x":269,"y":34},{"k":"0R","x":272,"y":26},{"k":"0R","x":275,"y":31},{"k":"0R","x":278,"y":35},{"k":"0R","x":281,"y":31},{"k":"0R","x":284,"y":29},{"k":"0R","x":287,"y":38},{"k":"0R","x":290,"y":36},{"k":"0R","x":293,"y":33},{"k":"0R","x":296,"y":38},{"k":"0R","x":299,"y":40},{"k":"0R","x":302,"y":33},{"k":"0R","x":305,"y":37},{"k":"0R","x":308,"y":41},{"k":"0R","x":311,"y":38},{"k":"0R","x":314,"y":37},{"k":"0R","x":317,"y":46},{"k":"0R","x":320,"y":40},{"k":"0R","x":323,"y":43},{"k":"0R","x":326,"y":38},{"k":"0R","x":329,"y":44},{"k":"0R","x":332,"y":41},{"k":"0R","x":335,"y":39},{"k":"0R","x":338,"y":45},{"k":"0R","x":341,"y":36},{"k":"0R","x":344,"y":44},{"k":"0R","x":347,"y":45},{"k":"0R","x":350,"y":41},{"k":"0R","x":353,"y":38},{"k":"0R","x":356,"y":44},{"k":"0R","x":359,"y":38},{"k":"0R","x":362,"y":40},{"k":"0R","x":365,"y":34},{"k":"0R","x":368,"y":42},{"k":"0R","x":371,"y":36},{"k":"0R","x":374,"y":33},{"k":"0R","x":377,"y":37},{"k":"0R","x":380,"y":35},{"k":"0R","x":383,"y":38},{"k":"0R","x":386,"y":29},{"k":"0R","x":389,"y":34},{"k":"0R","x":392,"y":29},{"k":"0R","x":395,"y":33},{"k":"0R","x":398,"y":26},{"k":"0R","x":401,"y":28},{"k":"0R","x":404,"y":30},{"k":"0R","x":407,"y":20},{"k":"0R","x":410,"y":26},{"k":"0R","x":413,"y":23},{"k":"0R","x":416,"y":20},{"k":"0R","x":419,"y":25},{"k":"0R","x":422,"y":21},{"k":"0R","x":425,"y":16},{"k":"0R","x":428,"y":23},{"k":"0R","x":431,"y":15},{"k":"0R","x":434,"y":22},{"k":"0R","x":437,"y":16},{"k":"0R","x":440,"y":25},{"k":"0R","x":443,"y":21},{"k":"0R","x":446,"y":28},{"k":"0R","x":449,"y":25},
      {"k":"0R","x":246.5,"y":20},{"k":"0R","x":249.5,"y":28},{"k":"0R","x":252.5,"y":20},{"k":"0R","x":255.5,"y":33},{"k":"0R","x":258.5,"y":23},{"k":"0R","x":261.5,"y":30},{"k":"0R","x":264.5,"y":23},{"k":"0R","x":267.5,"y":34},{"k":"0R","x":270.5,"y":26},{"k":"0R","x":273.5,"y":32},{"k":"0R","x":276.5,"y":30},{"k":"0R","x":279.5,"y":38},{"k":"0R","x":282.5,"y":26},{"k":"0R","x":285.5,"y":37},{"k":"0R","x":288.5,"y":32},{"k":"0R","x":291.5,"y":39},{"k":"0R","x":294.5,"y":31},{"k":"0R","x":297.5,"y":43},{"k":"0R","x":300.5,"y":33},{"k":"0R","x":303.5,"y":40},{"k":"0R","x":306.5,"y":35},{"k":"0R","x":309.5,"y":42},{"k":"0R","x":312.5,"y":33},{"k":"0R","x":315.5,"y":45},{"k":"0R","x":318.5,"y":39},{"k":"0R","x":321.5,"y":46},{"k":"0R","x":324.5,"y":37},{"k":"0R","x":327.5,"y":46},{"k":"0R","x":330.5,"y":38},{"k":"0R","x":333.5,"y":43},{"k":"0R","x":336.5,"y":37},{"k":"0R","x":339.5,"y":45},{"k":"0R","x":342.5,"y":36},{"k":"0R","x":345.5,"y":48},{"k":"0R","x":348.5,"y":40},{"k":"0R","x":351.5,"y":45},{"k":"0R","x":354.5,"y":37},{"k":"0R","x":357.5,"y":44},{"k":"0R","x":360.5,"y":34},{"k":"0R","x":363.5,"y":41},{"k":"0R","x":366.5,"y":34},{"k":"0R","x":369.5,"y":43},{"k":"0R","x":372.5,"y":31},{"k":"0R","x":375.5,"y":40},{"k":"0R","x":378.5,"y":32},{"k":"0R","x":381.5,"y":39},{"k":"0R","x":384.5,"y":28},{"k":"0R","x":387.5,"y":35},{"k":"0R","x":390.5,"y":27},{"k":"0R","x":393.5,"y":35},{"k":"0R","x":396.5,"y":26},{"k":"0R","x":399.5,"y":32},{"k":"0R","x":402.5,"y":25},{"k":"0R","x":405.5,"y":28},{"k":"0R","x":408.5,"y":18},{"k":"0R","x":411.5,"y":28},{"k":"0R","x":414.5,"y":17},{"k":"0R","x":417.5,"y":26},{"k":"0R","x":420.5,"y":20},{"k":"0R","x":423.5,"y":23},{"k":"0R","x":426.5,"y":15},{"k":"0R","x":429.5,"y":22},{"k":"0R","x":432.5,"y":13},{"k":"0R","x":435.5,"y":23},{"k":"0R","x":438.5,"y":16},{"k":"0R","x":441.5,"y":27},{"k":"0R","x":444.5,"y":21},{"k":"0R","x":447.5,"y":29}
    ],
    "arrows": [
      {"x":16.7,"y":374,"tail":412.5,"d":"down"},
      {"x":17.6,"y":366.6,"tail":339.5,"d":"up"},
      {"x":21.8,"y":324.3,"tail":299,"d":"up"},
      {"x":21.8,"y":292.2,"tail":265.2,"d":"up"},
      {"x":24.6,"y":236.5,"tail":211.1,"d":"up"},
      {"x":27.4,"y":157.1,"tail":130,"d":"up"},
      {"x":68.4,"y":258.5,"tail":291.9,"d":"down"},
      {"x":67.6,"y":248.3,"tail":223,"d":"up"},
      {"x":67.6,"y":179.4,"tail":155.1,"d":"up"},
      {"x":69.6,"y":124.7,"tail":99.3,"d":"up"},
      {"x":71.0,"y":63.9,"tail":38.5,"d":"up"},
      {"x":117.7,"y":209.8,"tail":245.3,"d":"down"},
      {"x":117.7,"y":207.8,"tail":184.5,"d":"up"},
      {"x":121.9,"y":164.2,"tail":138.9,"d":"up"},
      {"x":120.5,"y":128.7,"tail":103.4,"d":"up"},
      {"x":126.1,"y":79.1,"tail":55.7,"d":"up"}
    ],
    "boxes": [
      {"region":"low-frequency","x":4.5,"x2":239.5,"y":10.1,"y2":438.6},
      {"region":"bond-bending","x":242.9,"x2":457.2,"y":12.2,"y2":286.5}
    ]
  },
  "layer": [
    {
      "data": {"name": "curves"},
      "mark": {"type": "line", "color": "black", "strokeWidth": 1.8, "strokeJoin": "round"},
      "encoding": {
        "x": {"field": "x", "type": "quantitative",
              "scale": {"domain": [0, 488.6], "nice": false, "zero": false},
              "axis": {"values": [0,40,80,120,160,200,240,280,320,360,400,440], "title": null, "grid": false,
                       "tickSize": -10, "tickWidth": 1.5, "tickColor": "black",
                       "domainColor": "black", "domainWidth": 1.5,
                       "labelPadding": 21, "labelFont": "Liberation Sans", "labelFontSize": 22,
                       "labelFontWeight": "bold", "labelColor": "black", "labelFlush": false,
                       "labelOverlap": false, "format": "d"}},
        "y": {"field": "y", "type": "quantitative",
              "scale": {"domain": [0, 448], "nice": false, "zero": false},
              "axis": {"values": [100, 200, 300], "labels": false, "grid": false,
                       "tickSize": -11, "tickWidth": 1.5, "tickColor": "black",
                       "domainColor": "black", "domainWidth": 1.5,
                       "title": "Intensity (arb.unit)", "titleFont": "Liberation Sans", "titleFontSize": 28,
                       "titleFontWeight": "bold", "titleColor": "black", "titleAngle": 270,
                       "titleAlign": "center", "titleBaseline": "alphabetic",
                       "titleX": -21.3, "titleY": 231.9}},
        "detail": {"field": "k", "type": "nominal"}
      }
    },
    {
      "data": {"name": "boxes"},
      "mark": {"type": "rect", "filled": false, "strokeWidth": 2},
      "encoding": {
        "x": {"field": "x", "type": "quantitative"},
        "x2": {"field": "x2"},
        "y": {"field": "y", "type": "quantitative"},
        "y2": {"field": "y2"},
        "color": {"field": "region", "type": "nominal", "legend": null,
                  "scale": {"domain": ["low-frequency", "bond-bending"], "range": ["#0000ff", "#ff0000"]}}
      }
    },
    {
      "data": {"values": [{"y": 448}]},
      "mark": {"type": "rule", "color": "black", "strokeWidth": 1.3},
      "encoding": {"y": {"field": "y", "type": "quantitative"}}
    },
    {
      "data": {"name": "arrows"},
      "mark": {"type": "rule", "color": "black", "strokeWidth": 1.8},
      "encoding": {
        "x": {"field": "x", "type": "quantitative"},
        "y": {"field": "y", "type": "quantitative"},
        "y2": {"field": "tail"}
      }
    },
    {
      "data": {"name": "arrows"},
      "mark": {"type": "point", "filled": false, "color": "black", "strokeWidth": 1.8, "opacity": 1, "size": 144},
      "encoding": {
        "x": {"field": "x", "type": "quantitative"},
        "y": {"field": "y", "type": "quantitative"},
        "shape": {"field": "d", "type": "nominal", "legend": null,
                  "scale": {"domain": ["up", "down"], "range": ["M-0.9,1.9L0,0L0.9,1.9", "M-0.9,-1.9L0,0L0.9,-1.9"]}}
      }
    },
    {
      "data": {"values": [{"t": "Fig. 7", "x": 175.6, "y": 395.3}]},
      "mark": {"type": "text", "font": "Liberation Sans", "fontWeight": "bold", "fontSize": 23, "align": "left", "baseline": "alphabetic", "color": "black"},
      "encoding": {"x": {"field": "x", "type": "quantitative"}, "y": {"field": "y", "type": "quantitative"}, "text": {"field": "t"}}
    },
    {
      "data": {"values": [
        {"t": "Set A: (AgI)", "x": 254.7, "y": 416.6},
        {"t": "(AgPO", "x": 374.4, "y": 416.6},
        {"t": ")", "x": 446.2, "y": 416.6}
      ]},
      "mark": {"type": "text", "font": "Liberation Sans", "fontWeight": "bold", "fontSize": 23, "align": "left", "baseline": "alphabetic", "color": "black"},
      "encoding": {"x": {"field": "x", "type": "quantitative"}, "y": {"field": "y", "type": "quantitative"}, "text": {"field": "t"}}
    },
    {
      "data": {"values": [
        {"t": "X", "x": 359.7, "y": 405.4},
        {"t": "3", "x": 436.6, "y": 404.4},
        {"t": "1-X", "x": 454.6, "y": 405.4}
      ]},
      "mark": {"type": "text", "font": "Liberation Sans", "fontWeight": "bold", "fontSize": 18, "align": "left", "baseline": "alphabetic", "color": "black"},
      "encoding": {"x": {"field": "x", "type": "quantitative"}, "y": {"field": "y", "type": "quantitative"}, "text": {"field": "t"}}
    },
    {
      "data": {"values": [
        {"t": "(boson)", "x": 28.6, "y": 416.6},
        {"t": "50%", "x": 459.8, "y": 184.2},
        {"t": "37%", "x": 459.8, "y": 145.2},
        {"t": "25%", "x": 459.2, "y": 106.4},
        {"t": "8%", "x": 461.2, "y": 69.2},
        {"t": "0%", "x": 461.2, "y": 20.3}
      ]},
      "mark": {"type": "text", "font": "Liberation Sans", "fontWeight": "bold", "fontSize": 17, "align": "left", "baseline": "alphabetic", "color": "black"},
      "encoding": {"x": {"field": "x", "type": "quantitative"}, "y": {"field": "y", "type": "quantitative"}, "text": {"field": "t"}}
    },
    {
      "data": {"values": [{"t": "ν", "x": 19.5, "y": 421.6}]},
      "mark": {"type": "text", "font": "Liberation Sans", "fontWeight": "bold", "fontSize": 20, "align": "center", "baseline": "alphabetic", "color": "black"},
      "encoding": {"x": {"field": "x", "type": "quantitative"}, "y": {"field": "y", "type": "quantitative"}, "text": {"field": "t"}}
    },
    {
      "data": {"values": [{"t": "bond-bending", "x": 353.7, "y": 269.5}]},
      "mark": {"type": "text", "font": "Liberation Sans", "fontWeight": "bold", "fontSize": 17, "align": "center", "baseline": "alphabetic", "color": "black"},
      "encoding": {"x": {"field": "x", "type": "quantitative"}, "y": {"field": "y", "type": "quantitative"}, "text": {"field": "t"}}
    },
    {
      "data": {"values": [{"t": "x 2", "x": 254.7, "y": 226.3}]},
      "mark": {"type": "text", "font": "Liberation Sans", "fontWeight": "bold", "fontSize": 19, "align": "left", "baseline": "alphabetic", "color": "black"},
      "encoding": {"x": {"field": "x", "type": "quantitative"}, "y": {"field": "y", "type": "quantitative"}, "text": {"field": "t"}}
    },
    {
      "data": {"values": [
        {"t": "ν", "x": 73.8, "y": 293.9},
        {"t": "ν", "x": 126.1, "y": 282.1}
      ]},
      "mark": {"type": "text", "font": "Liberation Sans", "fontWeight": "bold", "fontSize": 19, "angle": 270, "align": "left", "baseline": "alphabetic", "color": "black"},
      "encoding": {"x": {"field": "x", "type": "quantitative"}, "y": {"field": "y", "type": "quantitative"}, "text": {"field": "t"}}
    },
    {
      "data": {"values": [
        {"t": "(Ag+)", "x": 80.1, "y": 311.2},
        {"t": "(Ag-I)", "x": 131.0, "y": 295.7}
      ]},
      "mark": {"type": "text", "font": "Liberation Sans", "fontWeight": "bold", "fontSize": 17, "angle": 270, "align": "left", "baseline": "alphabetic", "color": "black"},
      "encoding": {"x": {"field": "x", "type": "quantitative"}, "y": {"field": "y", "type": "quantitative"}, "text": {"field": "t"}}
    },
    {
      "data": {"values": [
        {"t": "Raman Shift (cm", "x": 115.4, "y": -63.9},
        {"t": ")", "x": 319.8, "y": -63.9}
      ]},
      "mark": {"type": "text", "font": "Liberation Sans", "fontWeight": "bold", "fontSize": 28, "align": "left", "baseline": "alphabetic", "color": "black"},
      "encoding": {"x": {"field": "x", "type": "quantitative"}, "y": {"field": "y", "type": "quantitative"}, "text": {"field": "t"}}
    },
    {
      "data": {"values": [{"t": "-1", "x": 303.7, "y": -55.7}]},
      "mark": {"type": "text", "font": "Liberation Sans", "fontWeight": "bold", "fontSize": 18, "align": "left", "baseline": "alphabetic", "color": "black"},
      "encoding": {"x": {"field": "x", "type": "quantitative"}, "y": {"field": "y", "type": "quantitative"}, "text": {"field": "t"}}
    }
  ]
}
